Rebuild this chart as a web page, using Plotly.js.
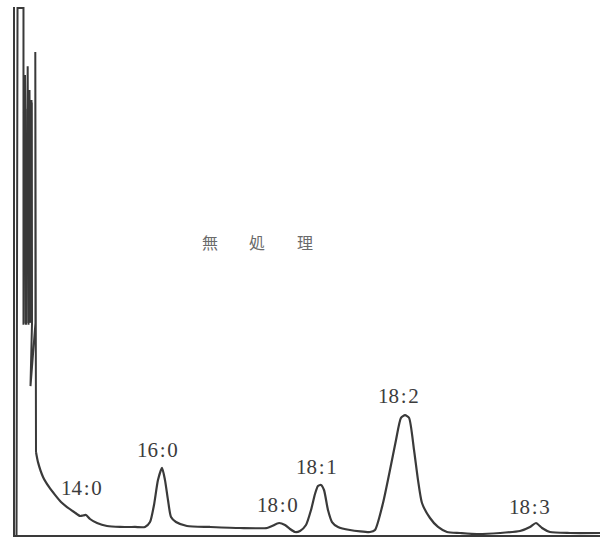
<!DOCTYPE html>
<html>
<head>
<meta charset="utf-8">
<script src="https://cdn.plot.ly/plotly-3.0.1.min.js"></script>
<style>html,body{margin:0;padding:0;background:#fff;}#chart{width:604px;height:539px;}</style>
</head>
<body>
<div id="chart"></div>
<script>
// solvent front (off-scale scribble), retention units 0-100, response 0-100
const solventX = [0.26,0.43,1.45,1.45,1.71,1.88,2.17,2.31,2.48,2.65,2.82,2.91,2.65,3.50,3.47,3.59,3.59];
const solventY = [0,99.8,99.8,39.8,87.1,39.8,88.8,39.8,84.3,40.2,82.4,40.2,28.2,40.2,91.5,38.8,15.7];

// chromatogram after the solvent front
const retention = [3.59,3.93,4.79,5.81,6.84,7.86,8.89,10.09,11.11,11.62,12.14,12.82,14.02,15.73,17.95,20.51,22.22,23.08,23.76,24.44,25.13,25.64,26.15,26.67,27.52,29.40,33.33,38.46,43.08,43.93,45.13,46.15,47.01,47.86,48.72,49.74,50.60,51.28,51.79,52.31,52.82,53.50,54.19,55.21,57.26,60.68,61.54,62.91,64.10,65.13,65.98,66.67,67.35,68.21,68.89,69.57,70.94,72.31,73.85,76.07,78.97,82.91,86.32,88.03,89.06,90.09,91.45,94.87,100];
const response = [15.7,13.8,11.0,9.1,7.6,6.25,5.3,4.36,3.6,3.69,3.79,3.03,2.27,1.70,1.52,1.52,1.52,2.46,5.68,10.4,12.7,10.4,6.63,3.41,2.46,1.70,1.52,1.33,1.33,1.70,2.27,1.89,1.14,0.57,0.76,1.89,4.73,7.77,9.28,9.47,8.52,4.73,2.46,1.52,0.95,0.57,0.95,6.06,12.3,18.0,22.2,22.7,22.2,16.1,10.4,6.06,3.22,1.52,0.57,0.38,0.19,0.38,0.76,1.52,2.27,1.33,0.57,0.38,0.38];

// dense scribble region of the solvent front
const bandX = [1.40,3.08,3.08,1.40];
const bandY = [80,82,40.3,40];

// peak labels
const peakLabels = ["14\u200a:\u200a0","16\u200a:\u200a0","18\u200a:\u200a0","18\u200a:\u200a1","18\u200a:\u200a2","18\u200a:\u200a3"];
const labelX = [11.45,24.44,44.79,51.62,65.64,88.03];
const labelY = [8.9,16.1,5.68,12.9,26.3,5.3];

// sample title
const titleChars = ["無","処","理"];
const titleX = [33.33,41.37,49.57];
const titleY = 55.5;

const traces = [
  {x: bandX, y: bandY, type:'scatter', mode:'lines', fill:'toself', fillcolor:'rgba(100,100,100,0.8)', line:{width:0}, hoverinfo:'skip'},
  {x: solventX, y: solventY, type:'scatter', mode:'lines', line:{color:'#3a3a3a', width:2}},
  {x: retention, y: response, type:'scatter', mode:'lines', line:{color:'#3a3a3a', width:2.2, shape:'spline', smoothing:0.6}}
];

const annotations = [];
peakLabels.forEach((t,i)=>annotations.push({x:labelX[i], y:labelY[i], xref:'x', yref:'y', text:t, showarrow:false, font:{family:'Liberation Serif, DejaVu Serif, serif', size:21, color:'#3c3c3c'}}));
titleChars.forEach((t,i)=>annotations.push({x:titleX[i], y:titleY, xref:'x', yref:'y', text:t, showarrow:false, font:{family:'Noto Sans CJK JP, sans-serif', size:16, color:'#6a6a6a'}}));

const layout = {
  width:604, height:539,
  margin:{l:15, r:4, t:7, b:4},
  paper_bgcolor:'#fff', plot_bgcolor:'#fff',
  showlegend:false,
  xaxis:{range:[0,100], showgrid:false, zeroline:false, showticklabels:false, ticks:'', showline:true, linecolor:'#3a3a3a', linewidth:2},
  yaxis:{range:[0,100], showgrid:false, zeroline:false, showticklabels:false, ticks:'', showline:true, linecolor:'#3a3a3a', linewidth:2},
  annotations: annotations
};
Plotly.newPlot('chart', traces, layout, {staticPlot:true, displayModeBar:false});
</script>
</body>
</html>
